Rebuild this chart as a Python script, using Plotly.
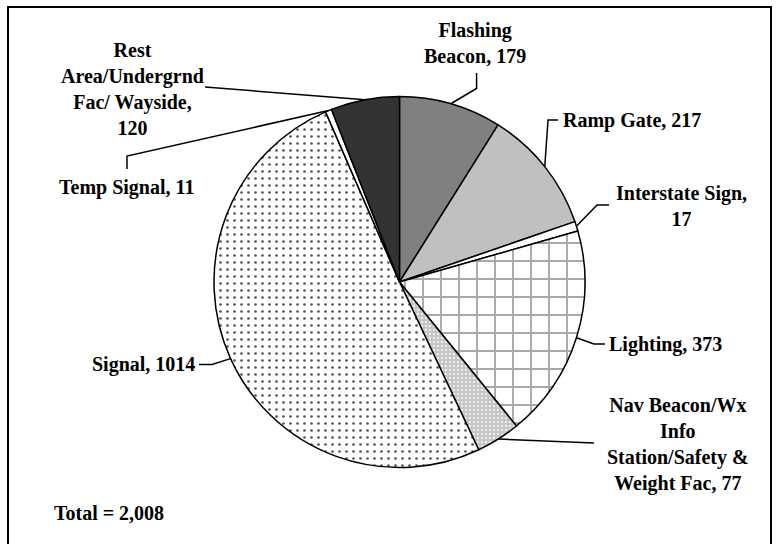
import math
import plotly.graph_objects as go

# ---- data ----
labels = ["Flashing Beacon", "Ramp Gate", "Interstate Sign", "Lighting",
          "Nav Beacon/Wx Info Station/Safety & Weight Fac", "Signal",
          "Temp Signal", "Rest Area/Undergrnd Fac/ Wayside"]
values = [179, 217, 17, 373, 77, 1014, 11, 120]
label_texts = ["Flashing<br>Beacon, 179", "Ramp Gate, 217", "Interstate Sign,<br>17",
               "Lighting, 373", "Nav Beacon/Wx<br>Info<br>Station/Safety &<br>Weight Fac, 77",
               "Signal, 1014", "Temp Signal, 11",
               "Rest<br>Area/Undergrnd<br>Fac/ Wayside,<br>120"]
total_text = "Total = 2,008"

# ---- styles ----
fill_colors = ["#808080", "#c0c0c0", "#ffffff", "#ffffff", "#c6c6c6", "#ffffff", "#ffffff", "#333333"]
pat_shape = ["", "", "", "+", ".", ".", "", ""]
pat_fg = ["#000000", "#000000", "#000000", "#a8a8a8", "#ffffff", "#555555", "#000000", "#000000"]
pat_bg = ["#808080", "#c0c0c0", "#ffffff", "#ffffff", "#c6c6c6", "#ffffff", "#ffffff", "#333333"]
pat_size = [8, 8, 8, 18, 4, 7, 8, 8]
pat_sol = [0.2, 0.2, 0.2, 0.2, 0.18, 0.12, 0.2, 0.2]

W, H = 780, 544
CX, CY, R = 399.5, 282.0, 185.5

def px(x):
    return x / W

def py(y):
    return 1 - y / H

fig = go.Figure()
fig.add_trace(go.Pie(
    labels=labels, values=values, sort=False, direction="clockwise", rotation=0,
    textinfo="none", hoverinfo="label+value", showlegend=False,
    marker=dict(colors=fill_colors, line=dict(color="#000000", width=1.5),
                pattern=dict(shape=pat_shape, fgcolor=pat_fg, bgcolor=pat_bg,
                             size=pat_size, solidity=pat_sol, fillmode="replace")),
    domain=dict(x=[px(CX - R), px(CX + R)], y=[py(CY + R), py(CY - R)]),
))

# mid angles of slices (degrees clockwise from 12 o'clock)
tot = sum(values)
mids = []
cum = 0
for v in values:
    mids.append((cum + v / 2) / tot * 360)
    cum += v

def edge(i):
    a = math.radians(mids[i])
    return (CX + R * math.sin(a), CY - R * math.cos(a))

# label anchor placements (pixel coords)
ann_pos = [
    (475, 42.5, "center"),
    (561, 120, "left"),
    (681, 206, "center"),
    (607, 344, "left"),
    (678, 444.5, "center"),
    (197, 364.6, "right"),
    (126, 187.5, "center"),
    (132, 88.5, "center"),
]
font = dict(family="Liberation Serif", size=20, color="#000000", weight="bold")
annotations = []
for i, (x, y, xa) in enumerate(ann_pos):
    annotations.append(dict(x=px(x), y=py(y), xref="paper", yref="paper", text=label_texts[i],
                            showarrow=False, xanchor=xa, yanchor="middle", align="center", font=font))
annotations.append(dict(x=px(52), y=py(513), xref="paper", yref="paper", text=total_text,
                        showarrow=False, xanchor="left", yanchor="middle", font=font))

# leader-line bends (pixel coords)
bends = [
    [(476.6, 73), (476.6, 88.5)],
    [(558, 120), (548, 120)],
    [(609, 205), (597, 205)],
    [(605, 344), (594, 344)],
    [(594, 443)],
    [(199, 364.6), (212, 364.6)],
    [(127, 169), (127, 156)],
    [(205, 87)],
]
shapes = []
for i, pts in enumerate(bends):
    allpts = pts + [edge(i)]
    path = "M " + " L ".join("%.4f,%.4f" % (px(x), py(y)) for x, y in allpts)
    shapes.append(dict(type="path", xref="paper", yref="paper", path=path,
                       line=dict(color="#000000", width=1.5)))

# frame
shapes.append(dict(type="rect", xref="paper", yref="paper", x0=px(8), x1=px(771), y0=py(560), y1=py(7),
                   line=dict(color="#000000", width=2)))

fig.update_layout(width=W, height=H, margin=dict(l=0, r=0, t=0, b=0),
                  paper_bgcolor="#ffffff", plot_bgcolor="#ffffff",
                  font=dict(family="Liberation Serif"),
                  annotations=annotations, shapes=shapes)
fig.write_html("out.html", config={"displayModeBar": False},
               post_script="document.body.style.margin='0';document.body.style.overflow='hidden';")
